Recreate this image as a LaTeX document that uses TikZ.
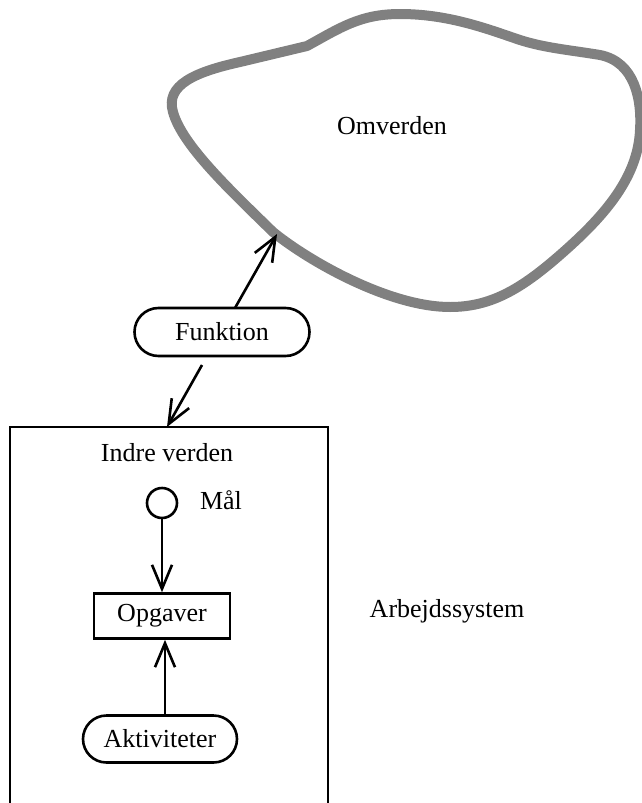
\documentclass[tikz,border=0pt]{standalone}
\usepackage{fontspec}
\setmainfont{Liberation Serif}
\usetikzlibrary{arrows.meta,shapes.misc}
\begin{document}
\begin{tikzpicture}[x=1pt,y=-1pt,
  every node/.style={font=\fontsize{26}{30}\selectfont},
  pill/.style={rounded rectangle, draw, line width=2.6pt, inner sep=0pt},
  taskbox/.style={rectangle, draw, line width=2.6pt, inner sep=0pt},
  flow/.style={line width=2.6pt, -{Straight Barb[length=24pt,width=20pt,line width=2.6pt]}},
  world/.style={draw=black!50, line width=10pt, line join=round}]
\useasboundingbox (0,0) rectangle (641,803);

% the surrounding world
\draw[world] (307,46) .. controls (340,28) and (360,14) .. (400,14)
  .. controls (450,14) and (490,30) .. (520,40)
  .. controls (545,48) and (570,50) .. (600,55)
  .. controls (635,62) and (642,100) .. (640,130)
  .. controls (638,180) and (600,220) .. (560,255)
  .. controls (520,290) and (490,307) .. (450,307)
  .. controls (390,307) and (310,262) .. (273,232)
  .. controls (230,190) and (182,145) .. (173,112)
  .. controls (165,85) and (195,72) .. (240,62)
  -- cycle;
\node (omv) at (392,126) {Omverden};
\coordinate (edge) at (277,234);

% the work system (open at the bottom)
\draw[line width=2.6pt] (10,806) -- (10,427) -- (328,427) -- (328,806);
\coordinate (top) at (167,427);
\node (indre) at (167,453) {Indre verden};
\node (arb) at (447,611) {Arbejdssystem};

% function between world and system
\node[pill, minimum width=175pt, minimum height=48pt] (fun) at (222,332) {Funktion};
\draw[flow] (235,308) -- (edge);
\draw[flow] (202,365) -- (top);

% inside the system
\node[circle, draw, line width=2.6pt, minimum size=30pt, inner sep=0pt] (maal) at (162,503) {};
\node (maaltxt) at (221,500) {Mål};
\node[taskbox, minimum width=136pt, minimum height=45pt] (opg) at (162,616) {Opgaver};
\node[pill, minimum width=154pt, minimum height=47pt] (akt) at (160,739) {Aktiviteter};
\draw[flow] (maal) -- (opg);
\draw[flow] (akt.north -| opg.south) ++(3,0) coordinate (aktup) (aktup) -- (aktup |- opg.south);
\end{tikzpicture}
\end{document}
